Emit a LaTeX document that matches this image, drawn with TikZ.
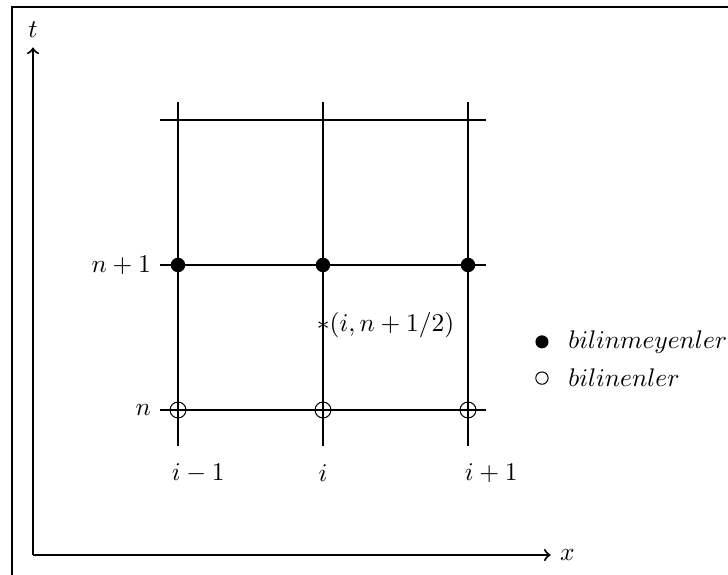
\documentclass[tikz,border=0pt]{standalone}
\usepackage{amsmath,amssymb}

\begin{document}
\begin{tikzpicture}[
  dolu/.style={circle, fill=black, inner sep=0pt, minimum size=2mm},
  bos/.style={circle, draw=black, thin, inner sep=0pt, minimum size=2.2mm}
]
\useasboundingbox (-0.455,-0.262) rectangle (9.586,7.655);

% Frame
\draw[thick] (-0.29,-0.3) -- (-0.29,7.56) -- (9.7,7.56);

% Axes
\draw[->, thick] (0,0) -- (7.14,0) node[right] (xlab) {$x$};
\draw[->, thick] (0,0) -- (0,7) node[above] (tlab) {$t$};

% Grid lines
\foreach \x in {2,4,6} \draw[thick] (\x,1.5) -- (\x,6.25);
\foreach \y in {2,4,6} \draw[thick] (1.75,\y) -- (6.25,\y);

% Unknown (n+1) and known (n) points
\foreach \x/\k in {2/a,4/b,6/c} {
  \node[dolu] (bil\k) at (\x,4) {};
  \node[bos] (bin\k) at (\x,2) {};
}

% Labels
\node[left] (nbir) at (1.75,4) {$n+1$};
\node[left] (nlab) at (1.75,2) {$n$};
\node (isol) at (2.28,1.13) {$i-1$};
\node (iorta) at (4,1.13) {$i$};
\node (isag) at (6.32,1.13) {$i+1$};
\node[anchor=west, inner sep=0pt] (yarim) at (3.91,3.17) {$*(i,n+1/2)$};

% Legend
\node[dolu, minimum size=1.8mm] (lgdolu) at (7.02,2.94) {};
\node[bos, minimum size=1.7mm] (lgbos) at (7.02,2.44) {};
\node[right] (lgt1) at (7.26,2.94) {$bilinmeyenler$};
\node[right] (lgt2) at (7.26,2.44) {$bilinenler$};

\end{tikzpicture}
\end{document}
